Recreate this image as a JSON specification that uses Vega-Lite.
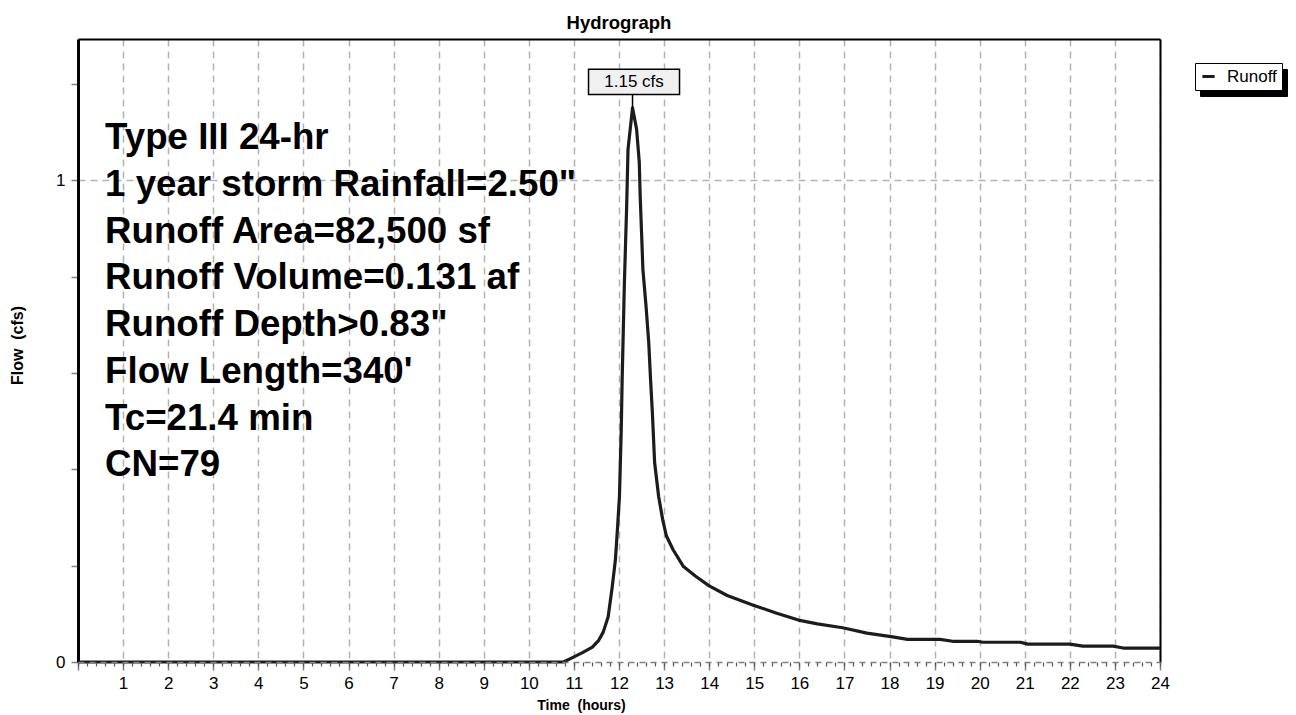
{
  "$schema": "https://vega.github.io/schema/vega-lite/v6.json",
  "width": 1082,
  "height": 623,
  "autosize": {"type": "none"},
  "padding": {"left": 78, "top": 39, "right": 136, "bottom": 53},
  "background": "white",
  "title": {
    "text": "Hydrograph",
    "fontSize": 18.5,
    "fontWeight": "bold",
    "font": "Liberation Sans",
    "anchor": "middle",
    "offset": 7,
    "color": "black"
  },
  "layer": [
    {
      "data": {
        "values": [
          {"time": 0, "flow": 0},
          {"time": 10.77, "flow": 0},
          {"time": 10.99, "flow": 0.01},
          {"time": 11.2, "flow": 0.02},
          {"time": 11.41, "flow": 0.031},
          {"time": 11.55, "flow": 0.045},
          {"time": 11.65, "flow": 0.062},
          {"time": 11.76, "flow": 0.094},
          {"time": 11.85, "flow": 0.156},
          {"time": 11.92, "flow": 0.212},
          {"time": 11.96, "flow": 0.268},
          {"time": 12.01, "flow": 0.343},
          {"time": 12.05, "flow": 0.482},
          {"time": 12.07, "flow": 0.586},
          {"time": 12.12, "flow": 0.788},
          {"time": 12.17, "flow": 0.946},
          {"time": 12.2, "flow": 1.064},
          {"time": 12.3, "flow": 1.15},
          {"time": 12.39, "flow": 1.106},
          {"time": 12.45, "flow": 1.037},
          {"time": 12.47, "flow": 0.967},
          {"time": 12.5, "flow": 0.892},
          {"time": 12.53, "flow": 0.815},
          {"time": 12.6, "flow": 0.738},
          {"time": 12.66, "flow": 0.663},
          {"time": 12.7, "flow": 0.586},
          {"time": 12.74, "flow": 0.518},
          {"time": 12.79, "flow": 0.414},
          {"time": 12.88, "flow": 0.343},
          {"time": 12.97, "flow": 0.295},
          {"time": 13.05, "flow": 0.262},
          {"time": 13.2, "flow": 0.233},
          {"time": 13.43, "flow": 0.198},
          {"time": 13.7, "flow": 0.178},
          {"time": 14.0, "flow": 0.158},
          {"time": 14.4, "flow": 0.138},
          {"time": 14.98, "flow": 0.118},
          {"time": 15.5, "flow": 0.101},
          {"time": 15.98, "flow": 0.087},
          {"time": 16.4, "flow": 0.079},
          {"time": 16.96, "flow": 0.071},
          {"time": 17.5, "flow": 0.06},
          {"time": 18.07, "flow": 0.052},
          {"time": 18.4, "flow": 0.047},
          {"time": 19.12, "flow": 0.047},
          {"time": 19.4, "flow": 0.043},
          {"time": 19.94, "flow": 0.043},
          {"time": 20.07, "flow": 0.041},
          {"time": 20.9, "flow": 0.041},
          {"time": 21.07, "flow": 0.037},
          {"time": 22.0, "flow": 0.037},
          {"time": 22.29, "flow": 0.033},
          {"time": 22.96, "flow": 0.033},
          {"time": 23.18, "flow": 0.029},
          {"time": 24, "flow": 0.029}
        ]
      },
      "mark": {"type": "line", "strokeWidth": 3.2, "strokeJoin": "round", "interpolate": "linear"},
      "encoding": {
        "x": {
          "field": "time",
          "type": "quantitative",
          "scale": {"domain": [0, 24], "nice": false, "zero": false},
          "axis": {
            "orient": "bottom",
            "values": [0, 1, 2, 3, 4, 5, 6, 7, 8, 9, 10, 11, 12, 13, 14, 15, 16, 17, 18, 19, 20, 21, 22, 23, 24],
            "labelExpr": "datum.value == 0 ? '' : datum.label",
            "grid": true,
            "gridColor": "#b3b3b3",
            "gridDash": [7, 5],
            "gridWidth": 1.5,
            "domain": false,
            "tickColor": "#808080",
            "tickSize": 8,
            "tickWidth": 1.5,
            "labelFontSize": 17,
            "labelPadding": 5,
            "labelFlush": false,
            "title": "Time\u00a0 (hours)",
            "titleFontSize": 14,
            "titleX": 503,
            "titleY": 43,
            "titleBaseline": "middle",
            "titleAnchor": "middle"
          }
        },
        "y": {
          "field": "flow",
          "type": "quantitative",
          "scale": {"domain": [0, 1.293], "nice": false},
          "axis": {
            "orient": "left",
            "values": [0, 0.2, 0.4, 0.6, 0.8, 1, 1.2],
            "format": "~g",
            "labelExpr": "datum.value == 0 || datum.value == 1 ? datum.label : ''",
            "grid": true,
            "gridColor": "#b3b3b3",
            "gridDash": [7, 5],
            "gridWidth": 1.5,
            "gridOpacity": {"condition": {"test": "datum.value == 1", "value": 1}, "value": 0},
            "domainColor": "black",
            "domainWidth": 3,
            "tickColor": "#808080",
            "tickSize": 7,
            "tickWidth": 1.5,
            "labelFontSize": 17,
            "labelPadding": 6,
            "title": "Flow\u00a0 (cfs)",
            "titleFontSize": 16,
            "titleX": -61,
            "titleY": 306,
            "titleBaseline": "middle",
            "titleAnchor": "middle"
          }
        },
        "color": {
          "datum": "Runoff",
          "scale": {"range": ["#1c1c1c"]},
          "legend": {
            "orient": "none",
            "legendX": 1117,
            "legendY": 24,
            "title": null,
            "symbolType": "stroke",
            "symbolSize": 150,
            "symbolStrokeWidth": 3,
            "labelFontSize": 17,
            "labelOffset": 10,
            "padding": 5,
            "strokeColor": "black",
            "fillColor": "white",
            "zindex": 2
          }
        }
      }
    },
    {
      "data": {"values": [{"time": 12.3, "flow": 1.15, "label": "1.15 cfs"}]},
      "mark": {"type": "rule", "color": "black", "strokeWidth": 1.5, "y2Offset": -14},
      "encoding": {
        "x": {
          "field": "time",
          "type": "quantitative",
          "axis": {
            "orient": "bottom",
            "tickCount": 120,
            "labels": false,
            "grid": false,
            "ticks": true,
            "tickSize": 4,
            "tickWidth": 1.2,
            "tickColor": "#555555",
            "domain": true,
            "domainColor": "#808080",
            "domainDash": [6, 5],
            "domainWidth": 1.5,
            "title": null,
            "zindex": 1
          }
        },
        "y": {"field": "flow", "type": "quantitative", "axis": null},
        "y2": {"field": "flow"}
      }
    },
    {
      "data": {"values": [{"time": 12.3, "flow": 1.15, "label": "1.15 cfs"}]},
      "mark": {
        "type": "point",
        "shape": "M-1,-0.279H1V0.279H-1Z",
        "size": 8281,
        "filled": true,
        "fill": "#f0f0f0",
        "stroke": "black",
        "strokeWidth": 1.5,
        "opacity": 1,
        "yOffset": -26,
        "xOffset": 1.5
      },
      "encoding": {
        "x": {
          "field": "time",
          "type": "quantitative",
          "axis": {
            "orient": "top",
            "domain": true,
            "domainColor": "black",
            "domainWidth": 2,
            "ticks": false,
            "labels": false,
            "grid": false,
            "title": null
          }
        },
        "y": {"field": "flow", "type": "quantitative", "axis": null}
      }
    },
    {
      "data": {"values": [{"time": 12.3, "flow": 1.15, "label": "1.15 cfs"}]},
      "mark": {
        "type": "text",
        "font": "Liberation Sans",
        "fontSize": 17,
        "color": "black",
        "align": "center",
        "baseline": "middle",
        "yOffset": -26,
        "xOffset": 1.5
      },
      "encoding": {
        "x": {"field": "time", "type": "quantitative", "axis": null},
        "y": {
          "field": "flow",
          "type": "quantitative",
          "axis": {
            "orient": "right",
            "domain": true,
            "domainColor": "black",
            "domainWidth": 2,
            "ticks": false,
            "labels": false,
            "grid": false,
            "title": null
          }
        },
        "text": {"field": "label"}
      }
    },
    {
      "data": {
        "values": [
          {"time": 0.6, "flow": 1.064, "note": "Type III 24-hr\n1 year storm Rainfall=2.50\"\nRunoff Area=82,500 sf\nRunoff Volume=0.131 af\nRunoff Depth>0.83\"\nFlow Length=340'\nTc=21.4 min\nCN=79"}
        ]
      },
      "mark": {
        "type": "text",
        "font": "Liberation Sans",
        "fontSize": 36.7,
        "fontWeight": "bold",
        "color": "black",
        "align": "left",
        "baseline": "alphabetic",
        "lineBreak": "\n",
        "lineHeight": 46.7
      },
      "encoding": {
        "x": {"field": "time", "type": "quantitative", "axis": null},
        "y": {"field": "flow", "type": "quantitative", "axis": null},
        "text": {"field": "note"}
      }
    },
    {
      "data": {"values": [{"time": 12.3, "flow": 1.15}]},
      "mark": {"type": "point", "opacity": 0},
      "encoding": {
        "x": {"field": "time", "type": "quantitative", "axis": null},
        "y": {"field": "flow", "type": "quantitative", "axis": null},
        "shape": {
          "datum": "Runoff\u00a0",
          "scale": {"range": ["stroke"]},
          "legend": {
            "orient": "none",
            "legendX": 1122,
            "legendY": 30,
            "title": null,
            "labelExpr": "'Runoff'",
            "symbolType": "stroke",
            "symbolSize": 150,
            "symbolStrokeWidth": 3,
            "symbolOpacity": 0,
            "labelFontSize": 17,
            "labelOffset": 10,
            "labelColor": "black",
            "labelOpacity": 0,
            "padding": 5,
            "strokeColor": "black",
            "fillColor": "black",
            "zindex": 1
          }
        }
      }
    }
  ],
  "resolve": {"axis": {"x": "independent", "y": "independent"}},
  "config": {
    "font": "Liberation Sans",
    "view": {"stroke": null},
    "axis": {
      "labelFont": "Liberation Sans",
      "labelColor": "black",
      "titleFont": "Liberation Sans",
      "titleColor": "black",
      "titleFontWeight": "bold"
    },
    "legend": {"labelFont": "Liberation Sans", "labelColor": "black"}
  }
}
